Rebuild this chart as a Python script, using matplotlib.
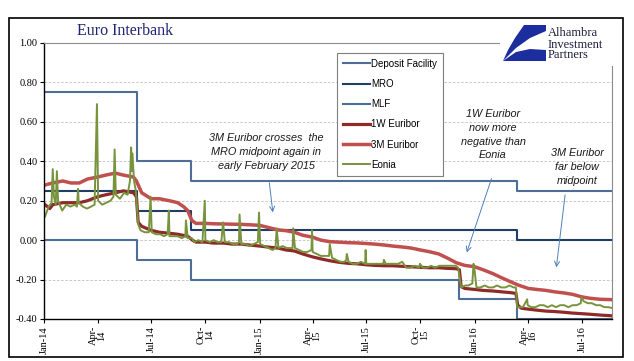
import numpy as np
import pandas as pd
import matplotlib
matplotlib.use('Agg')
import matplotlib.pyplot as plt
from matplotlib.patches import Rectangle, Polygon

plt.rcParams['font.family'] = ['Liberation Serif', 'DejaVu Serif']

# ECB policy rates (step changes)
policy_dates = ['2014-01-01', '2014-06-07', '2014-09-07', '2015-12-06', '2016-03-12', '2016-08-22']
deposit = [0.00, -0.10, -0.20, -0.30, -0.40, -0.40]
mro = [0.25, 0.15, 0.05, 0.05, 0.00, 0.00]
mlf = [0.75, 0.40, 0.30, 0.30, 0.25, 0.25]

# 3M Euribor
m3_dates = ['2014-01-02', '2014-01-15', '2014-02-01', '2014-02-15', '2014-03-01', '2014-03-15',
            '2014-04-01', '2014-04-15', '2014-05-01', '2014-05-15', '2014-06-01', '2014-06-06',
            '2014-06-15', '2014-07-01', '2014-07-15', '2014-08-01', '2014-08-15', '2014-08-25',
            '2014-09-01', '2014-09-08', '2014-09-15', '2014-10-01', '2014-10-15', '2014-11-01',
            '2014-11-15', '2014-12-01', '2014-12-15', '2015-01-01', '2015-01-15', '2015-02-01',
            '2015-02-15', '2015-03-01', '2015-03-15', '2015-04-01', '2015-04-15', '2015-05-01',
            '2015-05-15', '2015-06-01', '2015-06-15', '2015-07-01', '2015-07-15', '2015-08-01',
            '2015-08-15', '2015-09-01', '2015-09-15', '2015-10-01', '2015-10-15', '2015-11-01',
            '2015-11-15', '2015-12-01', '2015-12-15', '2016-01-01', '2016-01-15', '2016-02-01',
            '2016-02-15', '2016-03-01', '2016-03-15', '2016-04-01', '2016-04-15', '2016-05-01',
            '2016-05-15', '2016-06-01', '2016-06-15', '2016-07-01', '2016-07-15', '2016-08-01',
            '2016-08-22']
m3_vals = [0.28, 0.29, 0.30, 0.29, 0.29, 0.31,
           0.32, 0.33, 0.34, 0.33, 0.32, 0.30,
           0.24, 0.21, 0.21, 0.20, 0.19, 0.17,
           0.15, 0.10, 0.085, 0.085, 0.083, 0.082,
           0.081, 0.080, 0.078, 0.075, 0.065, 0.052,
           0.048, 0.040, 0.025, 0.015, 0.000, -0.008,
           -0.010, -0.013, -0.014, -0.017, -0.020, -0.025,
           -0.030, -0.035, -0.040, -0.050, -0.058, -0.070,
           -0.090, -0.115, -0.128, -0.135, -0.150, -0.170,
           -0.190, -0.210, -0.228, -0.245, -0.250, -0.255,
           -0.262, -0.268, -0.275, -0.288, -0.295, -0.300,
           -0.302]

# 1W Euribor
w1_dates = ['2014-01-02', '2014-01-10', '2014-01-15', '2014-02-01', '2014-02-15', '2014-03-01',
            '2014-03-15', '2014-04-01', '2014-04-15', '2014-05-01', '2014-05-15', '2014-06-01',
            '2014-06-06', '2014-06-09', '2014-06-15', '2014-07-01', '2014-07-15', '2014-08-01',
            '2014-08-15', '2014-09-01', '2014-09-09', '2014-09-15', '2014-10-01', '2014-10-15',
            '2014-11-01', '2014-11-15', '2014-12-01', '2014-12-15', '2015-01-01', '2015-01-15',
            '2015-02-01', '2015-02-15', '2015-03-01', '2015-03-15', '2015-04-01', '2015-04-15',
            '2015-05-01', '2015-05-15', '2015-06-01', '2015-06-15', '2015-07-01', '2015-07-15',
            '2015-08-01', '2015-08-15', '2015-09-01', '2015-09-15', '2015-10-01', '2015-10-15',
            '2015-11-01', '2015-11-15', '2015-12-01', '2015-12-06', '2015-12-09', '2015-12-15',
            '2016-01-01', '2016-01-15', '2016-02-01', '2016-02-15', '2016-03-01', '2016-03-11',
            '2016-03-14', '2016-03-20', '2016-04-01', '2016-04-15', '2016-05-01', '2016-05-15',
            '2016-06-01', '2016-06-15', '2016-07-01', '2016-07-15', '2016-08-01', '2016-08-22']
w1_vals = [0.18, 0.16, 0.18, 0.19, 0.19, 0.19,
           0.20, 0.22, 0.23, 0.24, 0.25, 0.24,
           0.22, 0.09, 0.07, 0.05, 0.04, 0.035,
           0.03, 0.02, 0.00, -0.01, -0.01, -0.015,
           -0.015, -0.02, -0.02, -0.025, -0.03, -0.035,
           -0.04, -0.05, -0.055, -0.07, -0.085, -0.095,
           -0.105, -0.112, -0.118, -0.12, -0.125, -0.128,
           -0.13, -0.13, -0.133, -0.135, -0.138, -0.14,
           -0.14, -0.143, -0.145, -0.15, -0.235, -0.245,
           -0.25, -0.255, -0.258, -0.262, -0.266, -0.27,
           -0.33, -0.345, -0.35, -0.355, -0.36, -0.362,
           -0.366, -0.37, -0.373, -0.376, -0.38, -0.384]

# Eonia
eo_dates = ['2014-01-02', '2014-01-08', '2014-01-13', '2014-01-15', '2014-01-17', '2014-01-20',
            '2014-01-22', '2014-01-24', '2014-01-31', '2014-02-07', '2014-02-14', '2014-02-21',
            '2014-02-25', '2014-02-27', '2014-02-28', '2014-03-07', '2014-03-14', '2014-03-21',
            '2014-03-27', '2014-03-31', '2014-04-02', '2014-04-09', '2014-04-16', '2014-04-23',
            '2014-04-28', '2014-04-30', '2014-05-02', '2014-05-09', '2014-05-16', '2014-05-22',
            '2014-05-26', '2014-05-28', '2014-05-29', '2014-05-30', '2014-06-02', '2014-06-05',
            '2014-06-09', '2014-06-13', '2014-06-20', '2014-06-27', '2014-06-30', '2014-07-02',
            '2014-07-09', '2014-07-16', '2014-07-23', '2014-07-29', '2014-07-31', '2014-08-01',
            '2014-08-08', '2014-08-15', '2014-08-22', '2014-08-28', '2014-08-29', '2014-09-01',
            '2014-09-08', '2014-09-12', '2014-09-19', '2014-09-26', '2014-09-30', '2014-10-01',
            '2014-10-08', '2014-10-15', '2014-10-22', '2014-10-28', '2014-10-31', '2014-11-03',
            '2014-11-10', '2014-11-17', '2014-11-24', '2014-11-27', '2014-11-28', '2014-12-01',
            '2014-12-08', '2014-12-15', '2014-12-22', '2014-12-29', '2014-12-31', '2015-01-02',
            '2015-01-09', '2015-01-16', '2015-01-23', '2015-01-28', '2015-01-30', '2015-02-02',
            '2015-02-09', '2015-02-16', '2015-02-23', '2015-02-26', '2015-02-27', '2015-03-02',
            '2015-03-09', '2015-03-16', '2015-03-23', '2015-03-30', '2015-03-31', '2015-04-01',
            '2015-04-08', '2015-04-15', '2015-04-22', '2015-04-29', '2015-04-30', '2015-05-04',
            '2015-05-11', '2015-05-18', '2015-05-25', '2015-05-28', '2015-05-29', '2015-06-01',
            '2015-06-08', '2015-06-15', '2015-06-22', '2015-06-29', '2015-06-30', '2015-07-01',
            '2015-07-08', '2015-07-15', '2015-07-22', '2015-07-30', '2015-07-31', '2015-08-03',
            '2015-08-10', '2015-08-17', '2015-08-24', '2015-08-31', '2015-09-07', '2015-09-14',
            '2015-09-21', '2015-09-29', '2015-09-30', '2015-10-05', '2015-10-12', '2015-10-19',
            '2015-10-26', '2015-11-02', '2015-11-09', '2015-11-16', '2015-11-23', '2015-11-30',
            '2015-12-04', '2015-12-07', '2015-12-09', '2015-12-16', '2015-12-21', '2015-12-28',
            '2015-12-30', '2015-12-31', '2016-01-04', '2016-01-11', '2016-01-18', '2016-01-25',
            '2016-02-01', '2016-02-08', '2016-02-15', '2016-02-22', '2016-02-29', '2016-03-07',
            '2016-03-11', '2016-03-13', '2016-03-18', '2016-03-23', '2016-03-30', '2016-03-31',
            '2016-04-06', '2016-04-13', '2016-04-20', '2016-04-27', '2016-05-04', '2016-05-11',
            '2016-05-18', '2016-05-25', '2016-06-01', '2016-06-08', '2016-06-15', '2016-06-22',
            '2016-06-29', '2016-06-30', '2016-07-04', '2016-07-11', '2016-07-18', '2016-07-25',
            '2016-08-01', '2016-08-08', '2016-08-15', '2016-08-22']
eo_vals = [0.12, 0.17, 0.19, 0.36, 0.22, 0.18,
           0.35, 0.20, 0.15, 0.18, 0.17, 0.18,
           0.17, 0.26, 0.19, 0.17, 0.16, 0.17,
           0.18, 0.69, 0.20, 0.18, 0.19, 0.20,
           0.22, 0.46, 0.23, 0.21, 0.24, 0.23,
           0.30, 0.47, 0.35, 0.44, 0.30, 0.25,
           0.08, 0.05, 0.04, 0.04, 0.22, 0.04,
           0.03, 0.03, 0.02, 0.03, 0.15, 0.02,
           0.02, 0.02, 0.01, 0.02, 0.10, 0.01,
           0.01, -0.01, 0.00, -0.01, 0.20, 0.00,
           -0.01, 0.00, -0.01, -0.01, 0.09, -0.01,
           -0.01, -0.02, -0.02, -0.01, 0.13, -0.02,
           -0.02, -0.03, -0.02, -0.01, 0.14, -0.02,
           -0.03, -0.04, -0.05, -0.04, 0.06, -0.04,
           -0.03, -0.04, -0.04, -0.04, 0.06, -0.04,
           -0.05, -0.06, -0.06, -0.05, 0.05, -0.06,
           -0.07, -0.08, -0.08, -0.08, -0.02, -0.09,
           -0.10, -0.11, -0.11, -0.10, -0.07, -0.11,
           -0.12, -0.12, -0.11, -0.12, -0.05, -0.12,
           -0.12, -0.12, -0.12, -0.12, -0.10, -0.12,
           -0.12, -0.12, -0.12, -0.11, -0.14, -0.14,
           -0.13, -0.14, -0.12, -0.14, -0.14, -0.13,
           -0.14, -0.13, -0.13, -0.13, -0.13, -0.13,
           -0.14, -0.20, -0.24, -0.23, -0.23, -0.22,
           -0.12, -0.13, -0.24, -0.24, -0.23, -0.24,
           -0.24, -0.23, -0.24, -0.24, -0.23, -0.24,
           -0.24, -0.34, -0.34, -0.34, -0.30, -0.33,
           -0.34, -0.34, -0.33, -0.33, -0.34, -0.33,
           -0.34, -0.33, -0.33, -0.34, -0.33, -0.33,
           -0.32, -0.29, -0.31, -0.32, -0.32, -0.33,
           -0.33, -0.34, -0.34, -0.345]

tick_dates = ['2014-01-01', '2014-04-01', '2014-07-01', '2014-10-01', '2015-01-01', '2015-04-01',
              '2015-07-01', '2015-10-01', '2016-01-01', '2016-04-01', '2016-07-01']
tick_labels = ['Jan-14', 'Apr-\n14', 'Jul-14', 'Oct-\n14', 'Jan-15', 'Apr-\n15',
               'Jul-15', 'Oct-\n15', 'Jan-16', 'Apr-\n16', 'Jul-16']

W, H = 634, 361
fig = plt.figure(figsize=(W / 100, H / 100), dpi=100)
ax = fig.add_axes([44.5 / W, 1 - 319 / H, (612 - 44.5) / W, (319 - 43) / H])

pd_ = pd.to_datetime(policy_dates)
l_dep, = ax.plot(pd_, deposit, drawstyle='steps-post', color='#4D6E99', lw=1.5, label='Deposit Facility')
l_mro, = ax.plot(pd_, mro, drawstyle='steps-post', color='#1F3D66', lw=1.5, label='MRO')
l_mlf, = ax.plot(pd_, mlf, drawstyle='steps-post', color='#4D6E99', lw=1.5, label='MLF')
l_w1, = ax.plot(pd.to_datetime(w1_dates), w1_vals, color='#8E2B29', lw=2.3, label='1W Euribor')
l_m3, = ax.plot(pd.to_datetime(m3_dates), m3_vals, color='#C0504D', lw=2.5, label='3M Euribor')
l_eo, = ax.plot(pd.to_datetime(eo_dates), eo_vals, color='#77933C', lw=1.4, label='Eonia')

ax.set_xlim(pd.Timestamp('2014-01-01'), pd.Timestamp('2016-08-21'))
ax.set_ylim(-0.40, 1.00)
ax.set_yticks(np.arange(-0.4, 1.01, 0.2))
ax.set_yticklabels(['%.2f' % v for v in np.arange(-0.4, 1.01, 0.2)], fontsize=7.5)
for v in np.arange(-0.2, 0.81, 0.2):
    ax.axhline(v, color='#BFBFBF', lw=0.6, ls=(0, (3, 2)), zorder=0)
ax.set_xticks(pd.to_datetime(tick_dates))
ax.set_xticklabels(tick_labels, rotation=90, fontsize=7.5, linespacing=0.85)
ax.tick_params(direction='out', length=3, width=0.8, pad=2)
for s in ['left', 'bottom']:
    ax.spines[s].set_color('black')
    ax.spines[s].set_linewidth(1.0)
for s in ['top', 'right']:
    ax.spines[s].set_color('#8C8C8C')
    ax.spines[s].set_linewidth(0.8)

leg = fig.legend(handles=[l_dep, l_mro, l_mlf, l_w1, l_m3, l_eo], loc='upper left',
                 bbox_to_anchor=(337 / W, 1 - 53 / H), borderaxespad=0, frameon=True,
                 fancybox=False, edgecolor='#7F7F7F', framealpha=1,
                 prop={'family': 'Liberation Sans', 'size': 7}, handlelength=2.8,
                 handletextpad=0.1, labelspacing=1.05, borderpad=0.6)
leg.get_frame().set_linewidth(0.8)

note = dict(fontsize=7.8, style='italic', family=['Liberation Sans', 'DejaVu Sans'], ha='center',
            va='center', linespacing=1.45, color='#1A1A1A')
arrow = dict(arrowstyle='->', color='#4F81BD', lw=0.7, mutation_scale=9)
ax.text(pd.Timestamp('2015-01-12'), 0.447, '3M Euribor crosses  the\nMRO midpoint again in\nearly February 2015', **note)
ax.annotate('', xy=(pd.Timestamp('2015-01-24'), 0.127), xytext=(pd.Timestamp('2015-01-17'), 0.305), arrowprops=arrow)
ax.text(pd.Timestamp('2016-02-01'), 0.534, '1W Euribor\nnow more\nnegative than\nEonia', **note)
ax.annotate('', xy=(pd.Timestamp('2015-12-17'), -0.076), xytext=(pd.Timestamp('2016-01-31'), 0.325), arrowprops=arrow)
ax.text(pd.Timestamp('2016-06-23'), 0.371, '3M Euribor\nfar below\nmidpoint', **note)
ax.annotate('', xy=(pd.Timestamp('2016-05-18'), -0.152), xytext=(pd.Timestamp('2016-06-03'), 0.244), arrowprops=arrow)

# title
fig.text(77 / W, 1 - 31 / H, 'Euro Interbank', fontsize=11.5, color='#1F2470', va='center', ha='left')

# logo block
fig.patches.append(Rectangle((500 / W, 1 - 66 / H), 122 / W, 46 / H, transform=fig.transFigure,
                             facecolor='white', edgecolor='none', zorder=5))
def px(pts):
    return [(x / W, 1 - y / H) for x, y in pts]
fig.patches.append(Polygon(px([(524, 25), (546, 25), (546, 31), (530, 38), (516, 48), (503, 61), (508, 50), (515, 38)]),
                           closed=True, transform=fig.transFigure, facecolor='#1C2E9E', edgecolor='none', zorder=6))
fig.patches.append(Polygon(px([(503, 61), (516, 52), (530, 49), (546, 50), (546, 61)]),
                           closed=True, transform=fig.transFigure, facecolor='#1C2E9E', edgecolor='none', zorder=6))
for txt, yb in [('Alhambra', 36.5), ('Investment', 47.5), ('Partners', 58)]:
    fig.text(548 / W, 1 - yb / H, txt, fontsize=9, color='#1E1E3C', va='baseline', ha='left', zorder=7)

# outer frame
fig.patches.append(Rectangle((9 / W, 1 - 357 / H), 614 / W, 339 / H, transform=fig.transFigure,
                             facecolor='none', edgecolor='black', lw=1.2, zorder=8))

fig.savefig('out.png', dpi=100)
